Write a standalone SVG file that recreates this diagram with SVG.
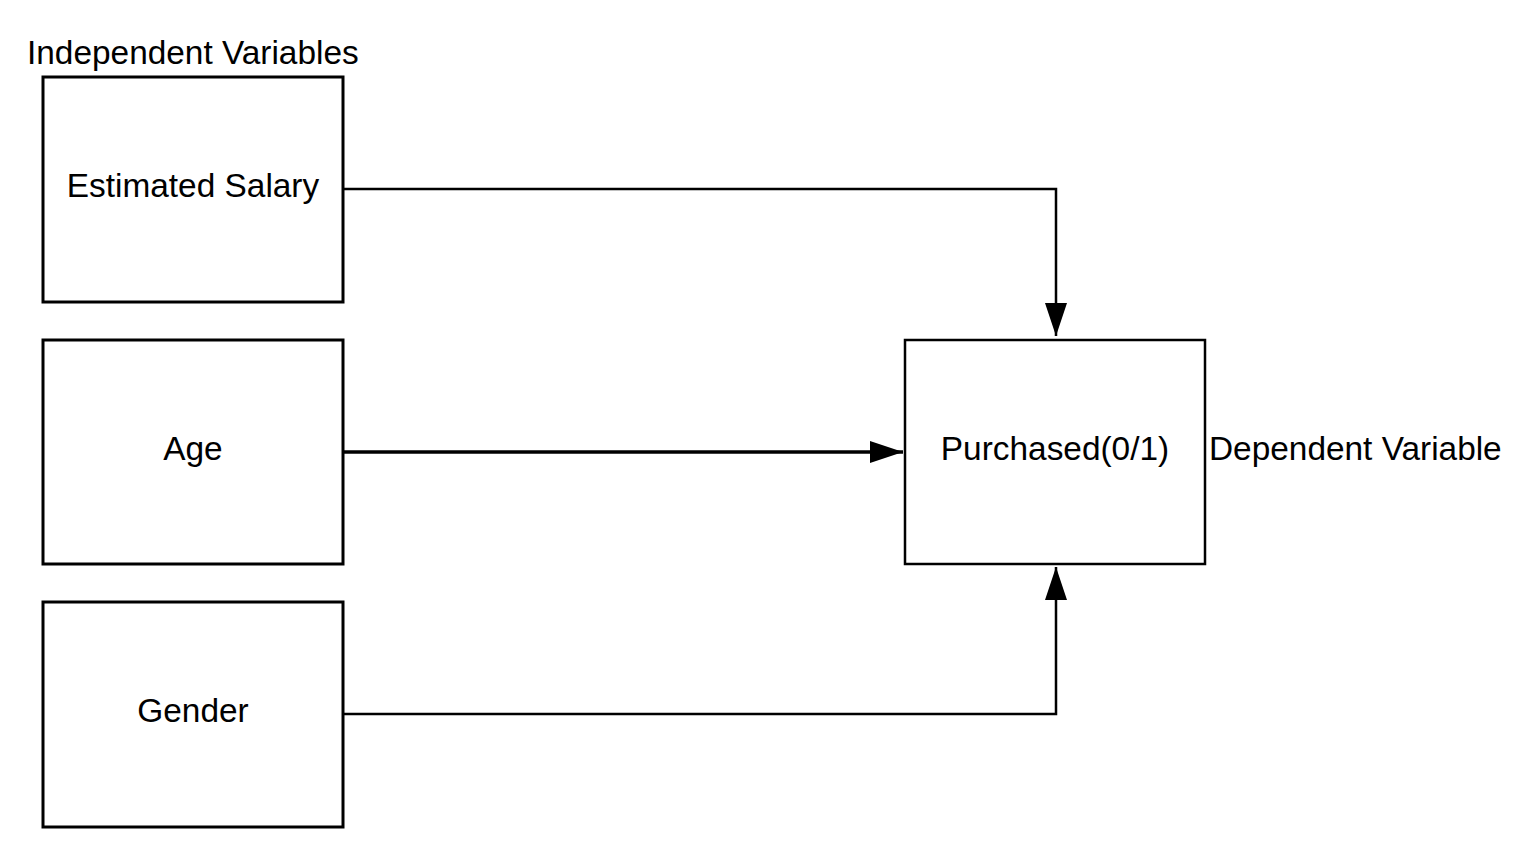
<svg xmlns="http://www.w3.org/2000/svg" width="1539" height="868" viewBox="0 0 1539 868">
<style>
.box{fill:#fff;stroke:#000;stroke-width:3}
.box2{fill:#fff;stroke:#000;stroke-width:2.5}
.t{font-family:"Liberation Sans",Arial,sans-serif;font-size:33.4px;fill:#000}
.c{text-anchor:middle}
.ln{fill:none;stroke:#000;stroke-width:2.5}
</style>
<defs>
<marker id="ah" viewBox="0 0 33 22" refX="33" refY="11" markerWidth="33" markerHeight="22" markerUnits="userSpaceOnUse" orient="auto">
<path d="M0,0 L33,11 L0,22 Z" fill="#000"/>
</marker>
</defs>
<rect width="1539" height="868" fill="#fff"/>
<text class="t" x="27" y="64">Independent Variables</text>
<g id="salary"><rect class="box" x="43" y="77" width="300" height="225"/><text class="t c" x="193" y="197">Estimated Salary</text></g>
<g id="age"><rect class="box" x="43" y="340" width="300" height="224"/><text class="t c" x="193" y="460">Age</text></g>
<g id="gender"><rect class="box" x="43" y="602" width="300" height="225"/><text class="t c" x="193" y="722">Gender</text></g>
<g id="purchased"><rect class="box2" x="905" y="340" width="300" height="224"/><text class="t c" x="1055" y="460">Purchased(0/1)</text></g>
<text class="t" x="1209" y="460">Dependent Variable</text>
<g id="connectors">
<path class="ln" d="M343,189 H1056 V336" marker-end="url(#ah)"/>
<path class="ln" d="M343,452 H903" style="stroke-width:3.5" marker-end="url(#ah)"/>
<path class="ln" d="M343,714 H1056 V567" marker-end="url(#ah)"/>
</g>
</svg>
